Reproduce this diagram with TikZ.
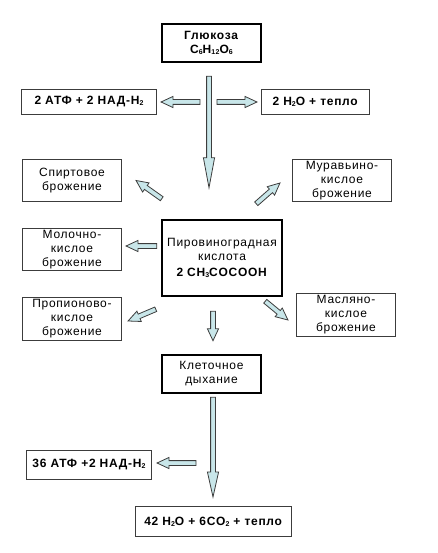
\documentclass[tikz,border=0pt]{standalone}
\usepackage{fontspec}
\setmainfont[LetterSpace=6]{Liberation Sans}
\usetikzlibrary{calc}

\definecolor{arrowfill}{RGB}{200,230,233}
\definecolor{boxline}{RGB}{60,60,60}

\newcommand{\ix}[1]{\raisebox{-1pt}{\fontsize{7}{7}\selectfont #1}}
\newcommand{\shaftw}{2.4pt}
\newcommand{\headw}{5.6pt}
% block arrow: [head length]{start}{tip}
\newcommand{\blockarrow}[3][12pt]{%
  \path #2 coordinate (bs) #3 coordinate (be) ($(be)!#1!(bs)$) coordinate (bh);
  \draw[flowarrow] ($(bs)!\shaftw!90:(be)$) -- ($(bh)!\shaftw!90:(be)$)
    -- ($(bh)!\headw!90:(be)$) -- (be) -- ($(bh)!\headw!-90:(be)$)
    -- ($(bh)!\shaftw!-90:(be)$) -- ($(bs)!\shaftw!-90:(be)$) -- cycle;
}

\begin{document}
\begin{tikzpicture}[x=1pt, y=-1pt,
  every node/.style={font=\fontsize{12}{14}\selectfont, align=center, inner sep=0pt},
  mainbox/.style={draw=black, line width=2.5pt},
  sidebox/.style={draw=boxline, line width=1.1pt},
  flowarrow/.style={draw=boxline, line width=0.8pt, fill=arrowfill, line join=miter}]
\useasboundingbox (0,0) rectangle (437,553);

\node[mainbox, minimum width=99pt, minimum height=38pt] (glu) at (211.5,43)
  {\textbf{Глюкоза}\\\textbf{C\ix{6}H\ix{12}O\ix{6}}};
\node[sidebox, minimum width=135pt, minimum height=25pt] (atp1) at (89,102)
  {\textbf{2 АТФ + 2 НАД-Н\ix{2}}};
\node[sidebox, minimum width=108pt, minimum height=25pt] (heat1) at (315.5,102)
  {\textbf{2 H\ix{2}O + тепло}};

\node[sidebox, minimum width=99pt, minimum height=42pt] (spirt) at (72,180.5)
  {Спиртовое\\брожение};
\node[sidebox, minimum width=99pt, minimum height=42pt] (murav) at (342,180.5)
  {Муравьино-\\кислое\\брожение};
\node[sidebox, minimum width=99pt, minimum height=42pt] (moloch) at (72,249.5)
  {Молочно-\\кислое\\брожение};
\node[mainbox, minimum width=120pt, minimum height=76pt] (pyr) at (222,258)
  {Пировиноградная\\кислота\\[2pt]\textbf{2 CH\ix{3}COCOOH}};
\node[sidebox, minimum width=99pt, minimum height=43pt] (propion) at (72,319)
  {Пропионово-\\кислое\\брожение};
\node[sidebox, minimum width=99pt, minimum height=43pt] (maslo) at (346,315)
  {Масляно-\\кислое\\брожение};

\node[mainbox, minimum width=99pt, minimum height=38pt] (resp) at (211.5,374)
  {Клеточное\\дыхание};
\node[sidebox, minimum width=125pt, minimum height=29pt] (atp2) at (89,465)
  {\textbf{36 АТФ +2 НАД-Н\ix{2}}};
\node[sidebox, minimum width=156pt, minimum height=30pt] (final) at (213.5,521.5)
  {\textbf{42 H\ix{2}O + 6CO\ix{2} + тепло}};

% arrows
\blockarrow[30pt]{($(glu.south)+(-2.5,13)$)}{($(pyr.north)+(-13,-31)$)}
\blockarrow{($(atp1.east)+(43,0)$)}{($(atp1.east)+(4,0)$)}
\blockarrow{($(heat1.west)+(-44,0)$)}{($(heat1.west)+(-4,0)$)}
\blockarrow{($(pyr.north west)+(1,-20)$)}{($(spirt.east)+(14,0)$)}
\blockarrow{($(pyr.north east)+(-27,-15)$)}{($(murav.west)+(-12,2.5)$)}
\blockarrow{($(pyr.west)+(-4,-12)$)}{($(moloch.east)+(4,-3.5)$)}
\blockarrow{($(pyr.south west)+(-5,12)$)}{($(propion.east)+(6,2)$)}
\blockarrow{($(pyr.south east)+(-18,4)$)}{($(maslo.west)+(-8,5)$)}
\blockarrow{($(pyr.south)+(-9,14)$)}{($(resp.north)+(1.5,-13)$)}
\blockarrow[25pt]{($(resp.south)+(1.5,3)$)}{($(final.north)+(-0.5,-9)$)}
\blockarrow{($(atp2.east)+(44,-2)$)}{($(atp2.east)+(5,-2)$)}
\end{tikzpicture}
\end{document}
